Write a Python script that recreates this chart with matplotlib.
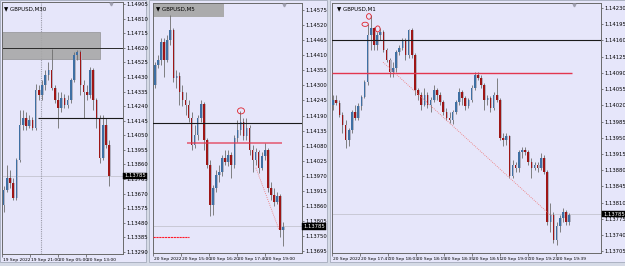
#!/usr/bin/env python3
"""
GBPUSD terminal screenshot: three chart windows (M30, M5, M1) side by side.
"""

import matplotlib
matplotlib.use("Agg")
import matplotlib.pyplot as plt
from matplotlib.patches import Rectangle, Ellipse
from matplotlib.transforms import blended_transform_factory, ScaledTranslation

plt.rcParams['font.family'] = ['Liberation Sans Narrow', 'DejaVu Sans']

W, H = 625, 266

last_price = 1.13785
level_black = 1.14161
level_red = 1.14090

# ---- M30 window ----
m30_open0 = 1.13596
m30_close = [1.13694, 1.13772, 1.13740, 1.13642, 1.13889, 1.14117, 1.14163, 1.14111, 1.14150, 1.14098,
             1.14345, 1.14313, 1.14378, 1.14443, 1.14475, 1.14358, 1.14280, 1.14228, 1.14293, 1.14247,
             1.14280, 1.14410, 1.14573, 1.14592, 1.14378, 1.14332, 1.14313, 1.14475, 1.14280, 1.14163,
             1.13902, 1.14117, 1.13987, 1.13785]
m30_high = [1.13720, 1.13857, 1.13824, 1.13772, 1.13902, 1.14215, 1.14215, 1.14202, 1.14182, 1.14169,
            1.14384, 1.14378, 1.14410, 1.14475, 1.14527, 1.14612, 1.14378, 1.14332, 1.14332, 1.14319,
            1.14313, 1.14423, 1.14592, 1.14606, 1.14606, 1.14410, 1.14378, 1.14495, 1.14488, 1.14293,
            1.14182, 1.14182, 1.14163, 1.14020]
m30_low = [1.13551, 1.13681, 1.13707, 1.13629, 1.13629, 1.13876, 1.14085, 1.14085, 1.14098, 1.14085,
           1.14085, 1.14280, 1.14280, 1.14345, 1.14410, 1.14345, 1.14260, 1.14098, 1.14202, 1.14228,
           1.14228, 1.14260, 1.14397, 1.14540, 1.14313, 1.14163, 1.14280, 1.14293, 1.14215, 1.14098,
           1.13870, 1.13889, 1.13968, 1.13720]
m30_time_pos = [-0.45, 8.3, 17.0, 25.8]
m30_time_labels = ['19 Sep 2022', '19 Sep 21:00', '20 Sep 05:00', '20 Sep 13:00']
m30_price_ticks = [1.14905, 1.14810, 1.14715, 1.14620, 1.14525, 1.14430, 1.14335, 1.14240, 1.14145,
                   1.14050, 1.13955, 1.13860, 1.13765, 1.13670, 1.13575, 1.13480, 1.13385, 1.13290]
m30_zone = (1.14547, 1.14723)
m30_level_top = 1.14620

# ---- M5 window ----
m5_open0 = 1.14302
m5_close = [1.14375, 1.14393, 1.14459, 1.14393, 1.14466, 1.14502, 1.14327, 1.14334, 1.14276, 1.14247,
            1.14229, 1.14181, 1.14082, 1.14119, 1.14181, 1.14232, 1.14101, 1.14009, 1.13863, 1.13925,
            1.13973, 1.13984, 1.14035, 1.14020, 1.14046, 1.14009, 1.14108, 1.14137, 1.14167, 1.14115,
            1.14145, 1.14064, 1.14028, 1.14057, 1.13999, 1.14042, 1.14064, 1.13925, 1.13900, 1.13874,
            1.13896, 1.13772, 1.13782]
m5_high = [1.14386, 1.14411, 1.14473, 1.14473, 1.14484, 1.14557, 1.14510, 1.14356, 1.14349, 1.14302,
           1.14276, 1.14247, 1.14203, 1.14155, 1.14192, 1.14247, 1.14239, 1.14108, 1.14028, 1.13936,
           1.13991, 1.14009, 1.14046, 1.14064, 1.14064, 1.14057, 1.14119, 1.14174, 1.14207, 1.14181,
           1.14181, 1.14155, 1.14082, 1.14072, 1.14064, 1.14057, 1.14090, 1.14072, 1.13947, 1.13925,
           1.13911, 1.13903, 1.13801]
m5_low = [1.14291, 1.14364, 1.14375, 1.14331, 1.14386, 1.14448, 1.14313, 1.14291, 1.14229, 1.14225,
          1.14192, 1.14167, 1.14064, 1.14072, 1.14101, 1.14167, 1.14064, 1.13999, 1.13823, 1.13827,
          1.13911, 1.13947, 1.13969, 1.14009, 1.14006, 1.13962, 1.13999, 1.14093, 1.14119, 1.14101,
          1.14101, 1.14046, 1.13984, 1.14009, 1.13980, 1.13991, 1.14028, 1.13911, 1.13882, 1.13860,
          1.13867, 1.13746, 1.13713]
m5_time_pos = [-0.6, 8.5, 17.7, 26.9, 36.1]
m5_time_labels = ['20 Sep 2022', '20 Sep 15:00', '20 Sep 16:20', '20 Sep 17:40', '20 Sep 19:00']
m5_price_ticks = [1.14575, 1.14520, 1.14465, 1.14410, 1.14355, 1.14300, 1.14245, 1.14190, 1.14135,
                  1.14080, 1.14025, 1.13970, 1.13915, 1.13860, 1.13805, 1.13750, 1.13695]
m5_stop_level = 1.13746
m5_zone_bottom = 1.14550

# ---- M1 window ----
m1_open0 = 1.14020
m1_close = [1.14031, 1.14025, 1.13999, 1.13977, 1.13945, 1.13966, 1.14005, 1.13992, 1.14018, 1.14037,
            1.14070, 1.14171, 1.14187, 1.14150, 1.14171, 1.14178, 1.14139, 1.14117, 1.14091, 1.14100,
            1.14135, 1.14143, 1.14161, 1.14128, 1.14182, 1.14128, 1.14053, 1.14042, 1.14020, 1.14042,
            1.14020, 1.14031, 1.14053, 1.14042, 1.14027, 1.14005, 1.13992, 1.13988, 1.14005, 1.14027,
            1.14048, 1.14035, 1.14018, 1.14031, 1.14057, 1.14085, 1.14079, 1.14063, 1.14031, 1.14035,
            1.14014, 1.14042, 1.14031, 1.13949, 1.13945, 1.13953, 1.13867, 1.13891, 1.13884, 1.13919,
            1.13923, 1.13919, 1.13897, 1.13884, 1.13891, 1.13884, 1.13906, 1.13875, 1.13767, 1.13783,
            1.13729, 1.13759, 1.13776, 1.13789, 1.13767, 1.13783]
m1_high = [1.14042, 1.14042, 1.14031, 1.14005, 1.13988, 1.13971, 1.14009, 1.14020, 1.14025, 1.14042,
           1.14074, 1.14195, 1.14215, 1.14189, 1.14178, 1.14187, 1.14182, 1.14143, 1.14122, 1.14113,
           1.14139, 1.14150, 1.14165, 1.14165, 1.14184, 1.14187, 1.14132, 1.14057, 1.14048, 1.14057,
           1.14048, 1.14037, 1.14063, 1.14057, 1.14048, 1.14031, 1.14014, 1.14005, 1.14009, 1.14031,
           1.14057, 1.14053, 1.14040, 1.14035, 1.14063, 1.14091, 1.14091, 1.14085, 1.14068, 1.14042,
           1.14040, 1.14048, 1.14079, 1.14035, 1.13960, 1.13960, 1.13955, 1.13901, 1.13897, 1.13923,
           1.13929, 1.13929, 1.13923, 1.13906, 1.13897, 1.13897, 1.13917, 1.13912, 1.13880, 1.13808,
           1.13789, 1.13767, 1.13783, 1.13798, 1.13793, 1.13787]
m1_low = [1.14009, 1.14020, 1.13994, 1.13960, 1.13927, 1.13932, 1.13960, 1.13988, 1.13988, 1.14009,
          1.14035, 1.14063, 1.14139, 1.14139, 1.14139, 1.14161, 1.14135, 1.14113, 1.14081, 1.14081,
          1.14091, 1.14128, 1.14139, 1.14117, 1.14122, 1.14122, 1.14042, 1.14031, 1.14009, 1.14018,
          1.14014, 1.14005, 1.14027, 1.14031, 1.14020, 1.13999, 1.13988, 1.13981, 1.13979, 1.14001,
          1.14020, 1.14020, 1.14009, 1.14014, 1.14027, 1.14053, 1.14074, 1.14057, 1.14009, 1.14020,
          1.14005, 1.14009, 1.14027, 1.13945, 1.13932, 1.13934, 1.13862, 1.13862, 1.13875, 1.13875,
          1.13906, 1.13912, 1.13891, 1.13862, 1.13880, 1.13875, 1.13880, 1.13871, 1.13761, 1.13746,
          1.13722, 1.13718, 1.13746, 1.13767, 1.13761, 1.13761]
m1_time_pos = [-0.3, 8.6, 17.5, 26.3, 35.2, 44.1, 53.0, 61.9, 70.8]
m1_time_labels = ['20 Sep 2022', '20 Sep 17:47', '20 Sep 18:03', '20 Sep 18:19', '20 Sep 18:35',
                  '20 Sep 18:51', '20 Sep 19:07', '20 Sep 19:23', '20 Sep 19:39']
m1_price_ticks = [1.14230, 1.14195, 1.14160, 1.14125, 1.14090, 1.14055, 1.14020, 1.13985, 1.13950,
                  1.13915, 1.13880, 1.13845, 1.13810, 1.13775, 1.13740, 1.13705]

# colours
BG = '#e6e6fa'
FRAME = '#d5dae6'
BULL = '#3e6fa3'
BEAR = '#9e1616'
GHOST = '#b2b2c2'
WICK = '#6e6e6e'
RED = '#e3364f'


def px_rect(x0, y0, x1, y1):
    """Pixel box (top-left origin) -> figure fraction rect."""
    return [x0 / W, 1 - y1 / H, (x1 - x0) / W, (y1 - y0) / H]


def draw_candles(ax, open0, close, high, low, px):
    """Wicks, a grey shadow bar and the coloured body for every candle."""
    opens = [open0] + close[:-1]
    x = list(range(len(close)))
    bottoms = [min(o, c) for o, c in zip(opens, close)]
    heights = [max(abs(c - o), px) for o, c in zip(opens, close)]
    colors = [BULL if c >= o else BEAR for o, c in zip(opens, close)]
    ax.vlines(x, low, high, color=WICK, lw=0.6, zorder=3)
    ax.bar([i + 0.3 for i in x], heights, bottom=bottoms, width=0.55, color=GHOST, zorder=3)
    ax.bar(x, heights, bottom=bottoms, width=0.5, color=colors, zorder=4)


def setup_window(fig, win, box, xlim, ylim, price_ticks, time_pos, time_labels, title):
    """Window background, axes frame, price scale and time scale."""
    fig.patches.append(Rectangle((win[0], win[1]), win[2], win[3], transform=fig.transFigure,
                                 fc=BG, ec='#a4abbb', lw=0.6, zorder=-5))
    ax = fig.add_axes(box)
    ax.set_facecolor(BG)
    ax.set_xlim(*xlim)
    ax.set_ylim(*ylim)
    for s in ax.spines.values():
        s.set_color('#6a6a6a')
        s.set_linewidth(0.7)

    ax.yaxis.tick_right()
    ax.set_yticks(price_ticks)
    ax.set_yticklabels([f"{v:.5f}" for v in price_ticks])
    ax.tick_params(axis='y', length=1.5, width=0.5, pad=1, labelsize=3.8, colors='#505050',
                   labelcolor='black')

    ax.set_xticks(time_pos)
    ax.set_xticklabels(time_labels, ha='left')
    ax.tick_params(axis='x', length=2.5, width=0.5, pad=0.6, labelsize=3.2, colors='#505050',
                   labelcolor='black')
    shift = ScaledTranslation(0.8 / 72, 0, fig.dpi_scale_trans)
    for lab in ax.get_xticklabels():
        lab.set_transform(lab.get_transform() + shift)

    ax.text(0.02, 0.985, title, transform=ax.transAxes, fontsize=4, va='top', ha='left',
            family=['DejaVu Sans Condensed', 'DejaVu Sans'], zorder=10)

    # current price line and box
    ax.axhline(last_price, color='#c4c4d0', lw=0.6, zorder=1)
    trans = blended_transform_factory(ax.transAxes, ax.transData)
    ax.text(1.008, last_price, f"{last_price:.5f}", transform=trans, fontsize=3.8, color='white',
            va='center', ha='left', zorder=10, clip_on=False,
            bbox=dict(boxstyle='square,pad=0.15', fc='black', ec='black', lw=0.3))
    return ax


fig = plt.figure(figsize=(W / 100, H / 100), dpi=100, facecolor=FRAME)

# ---- M30 ----
ax1 = setup_window(fig, px_rect(0, 0, 146, 262), px_rect(2, 2, 123, 254), (-0.47, 37.3),
                   (1.13277, 1.14918), m30_price_ticks, m30_time_pos, m30_time_labels,
                   '\u25bc GBPUSD,M30')
ax1.add_patch(Rectangle((-0.47, m30_zone[0]), 30.7, m30_zone[1] - m30_zone[0],
                        fc='#a8a8a8', ec='#8c8c8c', lw=0.5, alpha=0.9, zorder=2))
ax1.axhline(m30_level_top, color='#2a2a2a', lw=0.7, zorder=2)
ax1.hlines(level_black, 10.8, 37.3, color='#1a1a1a', lw=0.8, zorder=5)
ax1.axvline(11.7, color='#9a9aa8', lw=0.8, ls=(0, (1, 1)), zorder=1)
draw_candles(ax1, m30_open0, m30_close, m30_high, m30_low, 0.00007)

# ---- M5 ----
ax2 = setup_window(fig, px_rect(149, 0, 327, 262), px_rect(153, 3, 302, 253), (-0.66, 48.2),
                   (1.13688, 1.14601), m5_price_ticks, m5_time_pos, m5_time_labels,
                   '\u25bc GBPUSD,M5')
ax2.add_patch(Rectangle((-0.66, m5_zone_bottom), 23.3, 1.14601 - m5_zone_bottom,
                        fc='#a8a8a8', ec='none', alpha=0.95, zorder=2))
ax2.axhline(level_black, color='#1a1a1a', lw=0.8, zorder=5)
ax2.hlines(level_red, 10.5, 41.6, color=RED, lw=1.2, alpha=0.75, zorder=5)
ax2.hlines(m5_stop_level, -0.66, 11.1, color='#ff1a2a', lw=0.8, ls=(0, (2, 0.6)), zorder=5)
ax2.plot([33.1, 40.7], [1.13999, 1.13772], color='#f07070', lw=0.6, ls=(0, (1, 1.5)), zorder=5)
ax2.add_patch(Ellipse((28.2, 1.14207), 2.3, 0.00022, fill=False, ec='#e0202a', lw=0.6, zorder=6))
draw_candles(ax2, m5_open0, m5_close, m5_high, m5_low, 0.00004)

# ---- M1 ----
ax3 = setup_window(fig, px_rect(330, 0, 625, 262), px_rect(332, 3, 601, 253), (-0.32, 85.1),
                   (1.13701, 1.14241), m1_price_ticks, m1_time_pos, m1_time_labels,
                   '\u25bc GBPUSD,M1')
ax3.axhline(level_black, color='#1a1a1a', lw=0.8, zorder=5)
ax3.hlines(level_red, -0.32, 75.9, color=RED, lw=1.0, zorder=5)
ax3.plot([15.9, 69.5], [1.14113, 1.13780], color='#f07070', lw=0.6, ls=(0, (1, 1.5)), zorder=5)
ax3.add_patch(Ellipse((10.2, 1.14195), 2.0, 0.00009, fill=False, ec='#e0202a', lw=0.6, zorder=6))
ax3.add_patch(Ellipse((11.4, 1.14212), 1.5, 0.00012, fill=False, ec='#e0202a', lw=0.6, zorder=6))
ax3.add_patch(Ellipse((14.2, 1.14185), 1.5, 0.00013, fill=False, ec='#e0202a', lw=0.6, zorder=6))
draw_candles(ax3, m1_open0, m1_close, m1_high, m1_low, 0.000025)

# small chart-shift markers at the top of each window
for ax, xm in [(ax1, 0.9), (ax2, 0.88), (ax3, 0.898)]:
    ax.plot([xm], [0.992], marker='v', ms=2, color='#a0a0b0', transform=ax.transAxes,
            clip_on=False, zorder=10)

fig.savefig('out.png', dpi=100, facecolor=FRAME)
